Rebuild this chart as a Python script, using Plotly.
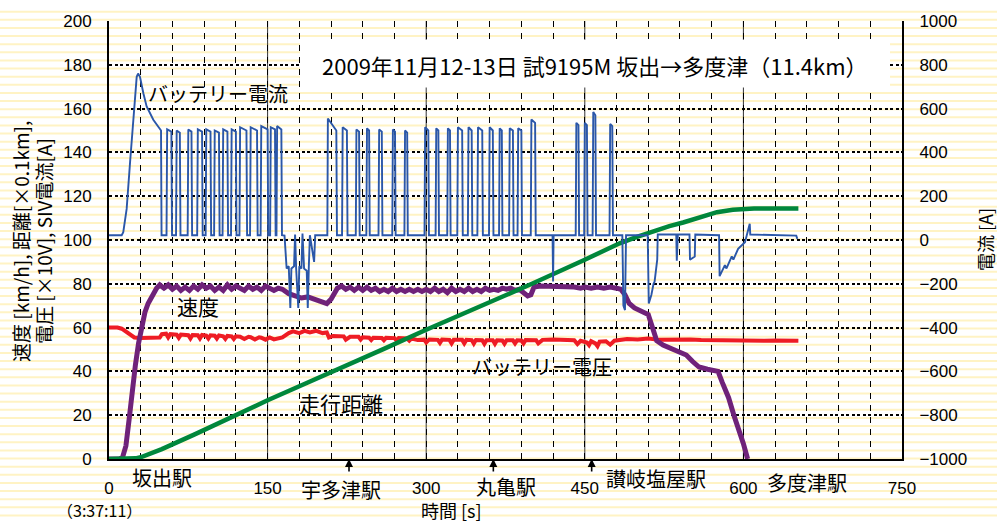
import plotly.graph_objects as go

# ---------------- data ----------------
speed_t = [0, 10, 13, 16, 19, 22, 25, 28, 31, 34, 37, 41, 45, 48,
           52, 56, 60, 64, 68, 72, 76, 80, 84, 88, 92, 96, 100, 104, 108, 112, 116, 120, 124, 128,
           132, 136, 140, 144, 148, 152, 156, 160, 164, 170, 176, 182, 188, 195, 201, 206, 210, 216,
           220, 224, 228, 232, 236, 240, 244, 248, 252, 256, 260, 264, 268, 272, 276, 280, 284, 288,
           292, 296, 300, 304, 308, 312, 316, 320, 324, 328, 332, 336, 340, 344, 348, 352, 356, 360,
           364, 368, 372, 376, 380, 384, 388, 392, 396, 399, 402, 408, 416, 424, 432, 440, 446, 450,
           456, 462, 468, 474, 480, 484, 488, 492, 497, 505, 510, 514, 518, 524, 532, 540, 546, 552,
           558, 566, 576, 580, 586, 591, 596, 600, 604]
speed_v = [0, 0, 1, 6, 18, 32, 43, 53, 61, 67, 71, 75, 78, 79.5,
           78, 79.5, 77.5, 79, 77, 78.5, 77, 79, 77.5, 79.5, 78, 79, 77, 78.5, 77, 79.5, 77.5, 79, 78, 77,
           79, 77.5, 78.5, 77, 79, 78, 77, 78, 77.5, 75.5, 74.5, 73.5, 74, 73, 72, 71, 73, 78,
           79, 77.5, 78.5, 77, 78.5, 77, 78.5, 77, 78, 76.5, 77.5, 76.5, 78, 76.5, 77.5, 76.5, 77.5, 76.5,
           77.5, 76.5, 77.5, 76.5, 78, 76.5, 77.5, 76, 78, 76.5, 77.5, 76.5, 78, 76.5, 77.5, 76.5, 78, 77,
           77.5, 77, 78, 77.5, 78, 77, 77.5, 76, 74.5, 75, 78.5, 79, 79, 79, 78.5, 78.5, 78, 78.5,
           78, 78.5, 78, 78.5, 78, 77.5, 75, 71, 69, 67.5, 66, 60, 54, 52, 50.5, 49, 47.5, 44.5,
           42, 41, 40, 35, 28, 20, 13, 7, 0]

volt_t = [0, 8, 12, 16, 20, 24, 30, 40, 48, 50, 54, 56, 58, 64, 66, 68, 75, 77, 79, 84, 86, 88,
          92, 94, 96, 100, 102, 104, 108, 110, 112, 116, 118, 120, 124, 128, 132, 134, 138, 142,
          144, 148, 152, 156, 160, 164, 170, 174, 180, 185, 190, 196, 202, 206, 208, 212, 222,
          224, 228, 236, 238, 240, 246, 248, 250, 258, 260, 262, 270, 272, 274, 282, 284, 286,
          292, 298, 300, 303, 311, 313, 315, 322, 324, 326, 334, 336, 338, 343, 345, 347, 353,
          355, 357, 363, 365, 367, 372, 374, 376, 382, 384, 386, 390, 392, 394, 404, 406, 410,
          420, 430, 440, 443, 446, 452, 454, 456, 460, 462, 464, 470, 474, 478, 484, 490, 500,
          510, 520, 530, 540, 550, 560, 570, 580, 590, 600, 610, 620, 630, 640, 652]
volt_v = [60, 60, 59.5, 58, 56.5, 55.5, 55.3, 55.3, 55.5, 57, 57.2, 55.5, 57, 56.8, 55.3, 56.8,
          56.5, 55, 56.6, 56.5, 55, 56.6, 56.3, 55, 56.5, 56.3, 55, 56.4, 56, 54.8, 56.2, 56,
          54.8, 56, 55.8, 54.8, 55.8, 55.6, 54.6, 55.6, 55.4, 54.5, 55.5, 54.6, 55.2, 55.5, 57.5,
          58.3, 57.5, 58.5, 57.8, 58.5, 57.5, 57.8, 55.5, 56.2, 56, 54.5, 55.8, 55.8, 54.5, 55.6,
          55.4, 54.3, 55.4, 55.3, 54.2, 55.3, 55.2, 54, 55.2, 55, 54, 55, 54.3, 54.5, 53.2, 54.6,
          54.4, 53, 54.5, 54.4, 52.8, 54.4, 54.4, 52.8, 54.4, 54.3, 52.7, 54.3, 54.2, 52.6, 54.2,
          54.2, 52.6, 54.2, 54.1, 52.6, 54.2, 54.2, 52.8, 54.2, 54.1, 52.8, 54.3, 54.2, 52.8, 54.4,
          54.6, 54.6, 54.2, 52.5, 54, 53.2, 52, 53.8, 52.8, 51.5, 53.6, 53.8, 52.2, 54, 54.2, 54.8,
          54.6, 55, 54.4, 54.5, 54.3, 54.6, 54.3, 54.2, 54.4, 54.3, 54.2, 54.1, 54, 54.1, 54, 54]

dist_t = [0, 20, 25, 30, 40, 50, 80, 117, 150, 180, 210, 228, 260, 300, 350, 365, 400, 450,
          483, 500, 512, 530, 543, 560, 575, 590, 600, 610, 652]
dist_v = [0, 0, 0.3, 0.8, 2.5, 4.5, 11, 19.6, 26.8, 33.2, 39.5, 43.3, 50.3, 59, 69.5, 72.5, 80,
          91, 98.5, 101.5, 103.6, 106.3, 108, 110.5, 112.7, 113.8, 114.2, 114.4, 114.4]

# battery current [A]: shape points outside the on/off pulses
cur_t = [0, 12, 13.5, 16.7, 19.9, 23, 26.2, 27.5, 29.3, 32.5, 35.6, 41.9, 48.2, 49.2, 49.7,
         164, 166, 168, 170, 171.5, 172.5, 175, 176, 177, 179, 180, 182, 183, 184.5, 187, 188,
         189, 190, 194, 195, 200, 206.5,
         404, 419.5, 420, 420.5, 441,
         477, 485.5, 486.5, 488, 489, 509.5, 510.5, 513, 515, 516, 518.5, 519, 536.5, 537, 538,
         549, 549.5, 554, 554.5, 577, 577.5, 582.5, 584, 589, 590.5, 595, 601.5, 603, 606, 606.5,
         650, 651]
cur_a = [22, 22, 36, 142, 353, 564, 745, 760, 745, 670, 610, 549, 504, 500, 22,
         22, 20, -130, -120, -310, -130, -120, 25, -130, -310, -120, -130, 30, -130, -140, -310,
         -120, 22, -100, 22, 22, 22,
         22, 22, -190, 22, 22,
         22, 22, -300, -320, 22, 22, -290, -250, -200, -190, -90, 25, 25, -95, 25,
         25, -90, -75, 25, 22, -165, -115, -130, -75, -90, -40, -10, 20, 74, 25,
         20, 5]
pulse_base = 22
pulse_on = [55, 64, 75, 84, 92, 100, 108, 116, 124, 134, 144, 153, 159,
            207, 221, 234, 244, 255.5, 268.5, 280, 299, 309.5, 320.5, 330, 340, 349, 360, 369.5,
            379, 387, 399.5, 442, 450, 458, 474]
pulse_off = [59, 67, 78, 88, 96, 104, 112, 120, 130, 140, 150, 157, 163,
             215, 225, 236.5, 246, 258, 270.5, 282, 302, 311.5, 322.5, 334, 343, 353, 363, 371.5,
             382, 390, 403, 444, 452, 460, 476]
pulse_top = [505, 500, 505, 505, 505, 500, 505, 505, 515, 515, 520, 515, 520,
             555, 515, 505, 510, 505, 505, 500, 515, 510, 510, 515, 515, 515, 515, 510,
             510, 510, 550, 535, 535, 585, 530]
pulse_end = [495, 490, 495, 495, 495, 490, 495, 495, 500, 500, 505, 505, 505,
             500, 500, 495, 500, 495, 495, 490, 500, 500, 500, 500, 500, 500, 500, 500,
             500, 500, 535, 525, 525, 570, 520]

x_ticks = [0, 150, 300, 450, 600, 750]

# ---------------- build current series ----------------
pts = list(zip(cur_t, cur_a))
for on, off, top, end in zip(pulse_on, pulse_off, pulse_top, pulse_end):
    pts += [(on - 0.6, pulse_base), (on, top), (off, end), (off + 0.6, pulse_base)]
pts.sort(key=lambda p: p[0])
cur_x = [p[0] for p in pts]
cur_y = [p[1] for p in pts]

# ---------------- figure ----------------
W, H = 997, 523
L, R, T, B = 109, 95, 17, 64
PW, PH = W - L - R, H - T - B

def px(xp):
    return (xp - L) / PW

def py(yp):
    return (H - B - yp) / PH

fig = go.Figure()
fig.add_trace(go.Scatter(x=volt_t, y=volt_v, mode="lines",
                         line=dict(color="#ee1c25", width=4), yaxis="y"))
fig.add_trace(go.Scatter(x=speed_t, y=speed_v, mode="lines",
                         line=dict(color="#6f2279", width=5), yaxis="y"))
fig.add_trace(go.Scatter(x=dist_t, y=dist_v, mode="lines",
                         line=dict(color="#00873c", width=4.5), yaxis="y"))
fig.add_trace(go.Scatter(x=cur_x, y=cur_y, mode="lines",
                         line=dict(color="#2b57a8", width=1.9), yaxis="y2"))

shapes = []
# pale striped background
k = 0
while True:
    p = 7.6 + 8.2 * k
    if p > H:
        break
    shapes.append(dict(type="line", xref="paper", yref="paper", layer="below",
                       x0=px(0), x1=px(W), y0=py(p), y1=py(p),
                       line=dict(color="#fff3c4", width=2)))
    k += 1
# major solid vertical lines
for xv in [150, 300, 450, 600]:
    shapes.append(dict(type="line", xref="x", yref="paper", x0=xv, x1=xv, y0=0, y1=1,
                       layer="below", line=dict(color="#333333", width=1)))
# title box
shapes.append(dict(type="rect", xref="paper", yref="paper", layer="above",
                   x0=px(300), x1=px(890), y0=py(84), y1=py(36),
                   fillcolor="white", line=dict(width=0)))

jp = "Noto Sans CJK JP"
num = "Liberation Sans"

fig.update_layout(
    width=W, height=H, margin=dict(l=L, r=R, t=T, b=B), autosize=False,
    paper_bgcolor="white", plot_bgcolor="rgba(0,0,0,0)",
    showlegend=False, shapes=shapes,
    xaxis=dict(range=[0, 750], tickvals=x_ticks, showgrid=False, zeroline=False,
               showline=True, linecolor="black", linewidth=2, ticks="",
               ticklabelstandoff=13, tickfont=dict(family=num, size=17, color="black"),
               minor=dict(dtick=30, showgrid=True, gridcolor="black", gridwidth=1,
                          griddash="6px,6px")),
    yaxis=dict(range=[0, 200], dtick=20, showgrid=True, gridcolor="black", gridwidth=1.6,
               griddash="3px,2.5px", zeroline=False, showline=True, linecolor="black",
               linewidth=2, ticks="", ticklabelstandoff=12,
               tickfont=dict(family=num, size=17, color="black")),
    yaxis2=dict(range=[-1000, 1000], dtick=200, overlaying="y", side="right",
                showgrid=False, zeroline=False, showline=True, linecolor="black",
                linewidth=2, ticks="", ticklabelstandoff=12,
                tickfont=dict(family=num, size=17, color="black")),
)

def txt(text, x, y, size=20, angle=0, xref="paper"):
    fig.add_annotation(text=text, x=x, y=y, xref=xref, yref="paper", showarrow=False,
                       xanchor="center", yanchor="middle", textangle=angle,
                       font=dict(family=jp, size=size, color="black"))

txt("2009年11月12-13日 試9195M 坂出→多度津（11.4km）", px(595), py(61), size=22)
txt("バッテリー電流", px(218), py(90), size=20)
txt("速度", px(198), py(305), size=21)
txt("バッテリー電圧", px(542), py(366), size=20)
txt("走行距離", px(341), py(402), size=21)
txt("坂出駅", px(162), py(478), size=20)
txt("宇多津駅", px(341), py(490), size=20)
txt("丸亀駅", px(506), py(487), size=20)
txt("讃岐塩屋駅", px(656), py(479), size=20)
txt("多度津駅", px(807), py(483), size=20)
txt("（3:37:11）", px(99), py(510), size=16)
txt("時間 [s]", px(451), py(510), size=18)
txt("速度 [km/h], 距離[×0.1km],", px(21), py(240), size=19, angle=-90)
txt("電圧 [×10V], SIV電流[A]", px(44), py(239), size=19, angle=-90)
txt("電流 [A]", px(985), py(238), size=18, angle=-90)

# station arrows
for xa in [227, 363.5, 456.5]:
    fig.add_annotation(x=xa, y=0, xref="x", yref="y", text="", showarrow=True,
                       ax=0, ay=14, arrowhead=2, arrowsize=1, arrowwidth=1.6,
                       arrowcolor="black", standoff=0)

fig.write_html("out.html", config={"displayModeBar": False},
               post_script="document.body.style.margin='0';document.body.style.overflow='hidden';")
